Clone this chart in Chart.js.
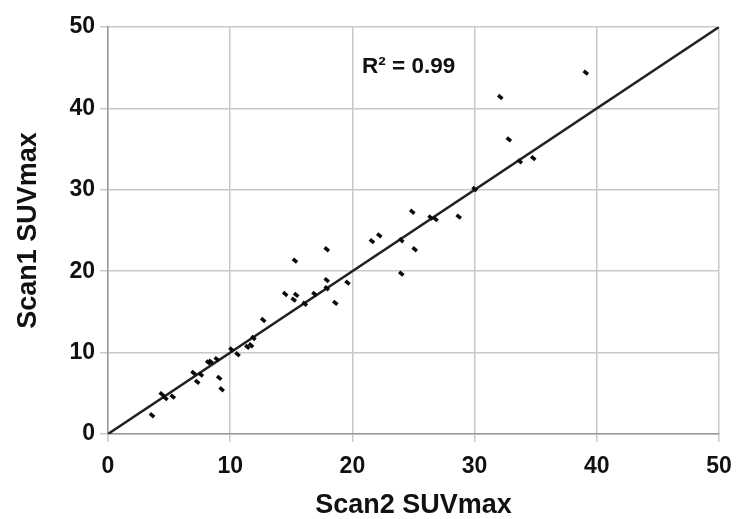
<!DOCTYPE html>
<html>
<head>
<meta charset="utf-8">
<script src="https://cdn.jsdelivr.net/npm/chart.js@4/dist/chart.umd.min.js"></script>
<style>
  html, body { margin: 0; padding: 0; background: #fff; }
  #wrap { width: 736px; height: 519px; }
</style>
</head>
<body>
<div id="wrap"><canvas id="c" width="736" height="519"></canvas></div>
<script>
// Scan2 SUVmax (x) and Scan1 SUVmax (y)
const scan2 = [3.6, 4.4, 4.7, 5.3, 7.0, 7.3, 7.6, 8.2, 8.4, 8.9, 9.1, 9.3, 10.1, 10.6, 11.4, 11.7, 11.9, 12.7,
  14.5, 15.3, 15.2, 15.4, 16.1, 16.9, 17.9, 17.9, 17.9, 18.6, 19.6, 21.6, 22.2, 24.0, 24.0, 24.9, 25.1,
  26.4, 26.8, 28.7, 30.0, 32.1, 32.8, 33.7, 34.8, 39.1];
const scan1 = [2.3, 4.9, 4.4, 4.6, 7.5, 6.4, 7.3, 8.8, 8.9, 9.2, 6.9, 5.5, 10.4, 9.8, 10.7, 10.9, 11.8, 14.0,
  17.2, 21.3, 16.5, 17.1, 16.0, 17.2, 22.7, 18.9, 17.9, 16.1, 18.6, 23.7, 24.4, 23.8, 19.7, 27.3, 22.7,
  26.6, 26.4, 26.7, 30.1, 41.4, 36.2, 33.5, 33.9, 44.4];
const identityX = [0, 50];
const identityY = [0, 50];
const xTicks = [0, 10, 20, 30, 40, 50];
const yTicks = [0, 10, 20, 30, 40, 50];
const xTitle = 'Scan2 SUVmax';
const yTitle = 'Scan1 SUVmax';
const rSquaredText = 'R\u00B2 = 0.99';
const rSquaredAt = { x: 24.6, y: 45.1 };

const points = scan2.map((v, i) => ({ x: v, y: scan1[i] }));
const lineData = identityX.map((v, i) => ({ x: v, y: identityY[i] }));

const FONT = "'Liberation Sans', Arial, sans-serif";

const annotationPlugin = {
  id: 'rsq',
  afterDatasetsDraw(chart) {
    const { ctx, scales } = chart;
    ctx.save();
    ctx.font = "bold 22.5px " + FONT;
    ctx.fillStyle = '#111';
    ctx.textAlign = 'center';
    ctx.textBaseline = 'middle';
    ctx.fillText(rSquaredText, scales.x.getPixelForValue(rSquaredAt.x), scales.y.getPixelForValue(rSquaredAt.y));
    ctx.restore();
  }
};

new Chart(document.getElementById('c'), {
  type: 'scatter',
  data: {
    datasets: [
      {
        type: 'line',
        data: lineData,
        borderColor: '#222',
        borderWidth: 2.5,
        pointRadius: 0,
        fill: false,
        order: 1
      },
      {
        data: points,
        pointStyle: 'line',
        rotation: 40,
        pointRadius: 2.8,
        pointBorderWidth: 3.6,
        borderColor: '#0a0a0a',
        backgroundColor: '#0a0a0a',
        order: 0
      }
    ]
  },
  options: {
    responsive: false,
    animation: false,
    events: [],
    layout: { padding: { top: 27, right: 17, left: 0, bottom: 0 } },
    plugins: { legend: { display: false }, tooltip: { enabled: false } },
    scales: {
      x: {
        type: 'linear',
        min: 0, max: 50,
        afterBuildTicks(scale) { scale.ticks = xTicks.map(v => ({ value: v })); },
        afterFit(scale) { scale.height = 85; scale.paddingRight = 0; scale.paddingLeft = 0; },
        grid: { color: '#c9c9c9', lineWidth: 1.5, tickLength: 8, drawTicks: true },
        border: { color: '#9a9a9a', width: 1.5 },
        ticks: { color: '#111', padding: 11, font: { family: FONT, size: 23, weight: 'bold' } },
        title: { display: true, text: xTitle, color: '#111', padding: { top: 0, bottom: 0 },
          font: { family: FONT, size: 27, weight: 'bold', lineHeight: 1.0 } }
      },
      y: {
        type: 'linear',
        min: 0, max: 50,
        afterBuildTicks(scale) { scale.ticks = yTicks.map(v => ({ value: v })); },
        afterFit(scale) { scale.width = 108; },
        grid: { color: '#c9c9c9', lineWidth: 1.5, tickLength: 8, drawTicks: true },
        border: { color: '#9a9a9a', width: 1.5 },
        ticks: { color: '#111', padding: 5, font: { family: FONT, size: 23, weight: 'bold' } },
        title: { display: true, text: yTitle, color: '#111', padding: { top: 15, bottom: 0 },
          font: { family: FONT, size: 27, weight: 'bold', lineHeight: 1.0 } }
      }
    }
  },
  plugins: [annotationPlugin]
});
</script>
</body>
</html>
